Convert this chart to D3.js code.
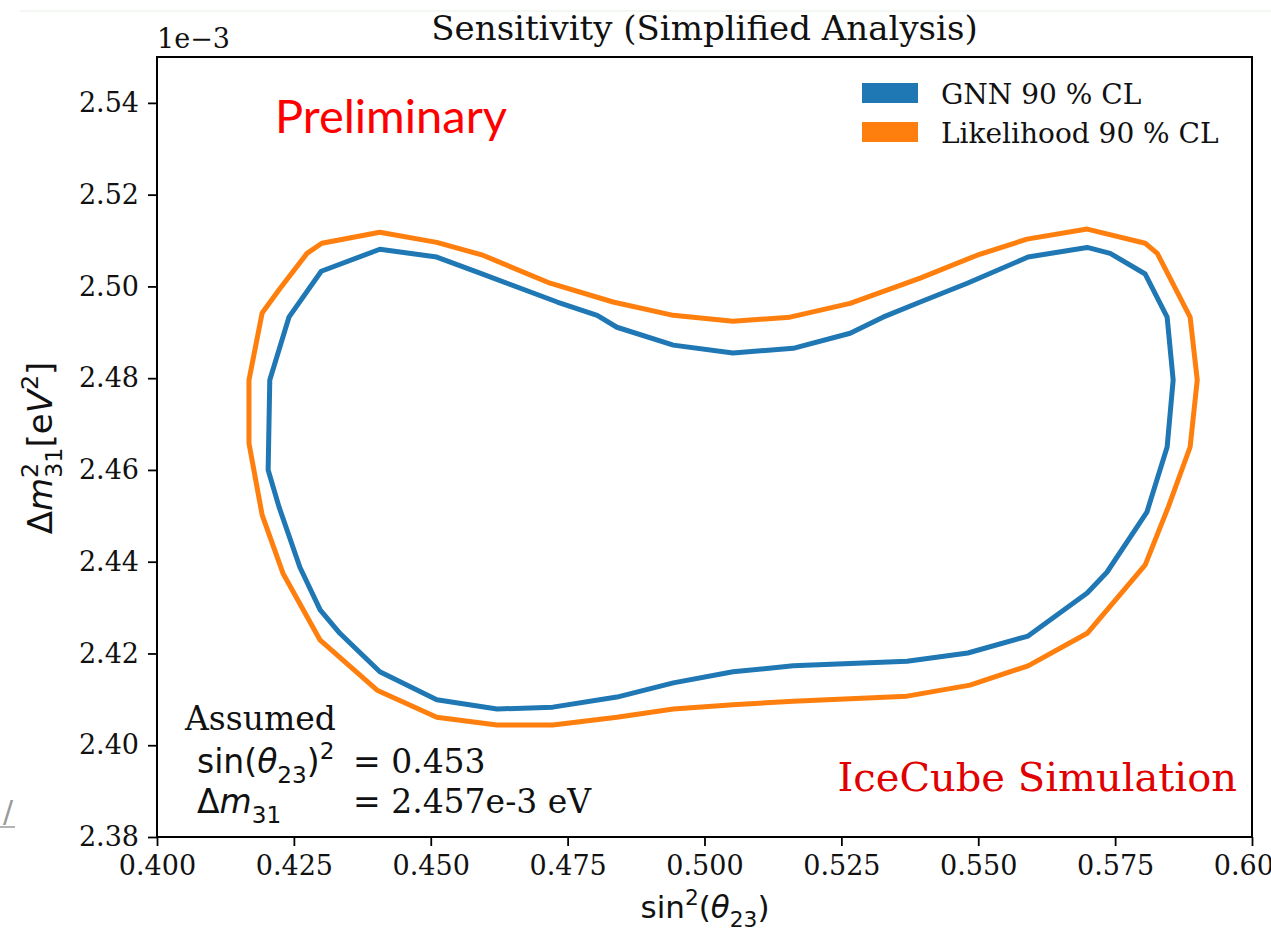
<!DOCTYPE html>
<html>
<head>
<meta charset="utf-8">
<script src="https://cdn.jsdelivr.net/npm/d3@7"></script>
<style>
  body { margin: 0; background: #ffffff; }
  svg { display: block; }
</style>
</head>
<body>
<svg id="chart" width="1271" height="932"></svg>
<script>
// 90 % CL contours in (sin^2 theta23, Delta m^2_31 [1e-3 eV^2])
const gnnX = [0.4206, 0.4241, 0.4300, 0.4407, 0.4511, 0.4590, 0.4731, 0.4804, 0.4840, 0.4943,
              0.5052, 0.5162, 0.5266, 0.5326, 0.5394, 0.5480, 0.5591, 0.5699, 0.5741, 0.5805,
              0.5845, 0.5856, 0.5845, 0.5808, 0.5735, 0.5699, 0.5591, 0.5481, 0.5370, 0.5162,
              0.5052, 0.4943, 0.4840, 0.4723, 0.4621, 0.4511, 0.4407, 0.4334, 0.4298, 0.4261,
              0.4223, 0.4203];
const gnnY = [2.4796, 2.4933, 2.5033, 2.5081, 2.5064, 2.5029, 2.4966, 2.4937, 2.4911, 2.4872,
              2.4855, 2.4865, 2.4898, 2.4933, 2.4966, 2.5007, 2.5064, 2.5085, 2.5072, 2.5027,
              2.4933, 2.4796, 2.4650, 2.4508, 2.4377, 2.4332, 2.4238, 2.4201, 2.4183, 2.4173,
              2.4160, 2.4136, 2.4105, 2.4083, 2.4079, 2.4099, 2.4160, 2.4244, 2.4295, 2.4388,
              2.4519, 2.4600];
const likeX = [0.4168, 0.4192, 0.4225, 0.4274, 0.4301, 0.4407, 0.4511, 0.4595, 0.4718, 0.4833,
               0.4943, 0.5052, 0.5156, 0.5266, 0.5394, 0.5498, 0.5589, 0.5699, 0.5805, 0.5827,
               0.5887, 0.5900, 0.5887, 0.5847, 0.5805, 0.5699, 0.5591, 0.5485, 0.5370, 0.5162,
               0.5052, 0.4943, 0.4840, 0.4723, 0.4621, 0.4511, 0.4402, 0.4298, 0.4230, 0.4192,
               0.4168];
const likeY = [2.4796, 2.4942, 2.4996, 2.5072, 2.5094, 2.5118, 2.5096, 2.5068, 2.5007, 2.4966,
               2.4937, 2.4924, 2.4933, 2.4963, 2.5018, 2.5068, 2.5103, 2.5125, 2.5094, 2.5072,
               2.4933, 2.4796, 2.4650, 2.4519, 2.4393, 2.4244, 2.4173, 2.4131, 2.4107, 2.4096,
               2.4088, 2.4079, 2.4061, 2.4044, 2.4044, 2.4061, 2.4120, 2.4229, 2.4375, 2.4502,
               2.4658];

const xTicks = [0.400, 0.425, 0.450, 0.475, 0.500, 0.525, 0.550, 0.575, 0.600];
const yTicks = [2.38, 2.40, 2.42, 2.44, 2.46, 2.48, 2.50, 2.52, 2.54];
const seriesNames = ["GNN 90 % CL", "Likelihood 90 % CL"];
const seriesColors = ["#1f77b4", "#ff7f0e"];

const SERIF = "'DejaVu Serif', serif";
const SANS = "'DejaVu Sans', sans-serif";

const svg = d3.select("#chart");
const plot = { left: 157, right: 1252, top: 57, bottom: 837 };

const x = d3.scaleLinear().domain([0.4, 0.6]).range([plot.left, plot.right]);
const y = d3.scaleLinear().domain([2.38, 2.55]).range([plot.bottom, plot.top]);

// faint page rule and stray slide mark
svg.append("line").attr("x1", 20).attr("x2", 1271).attr("y1", 11).attr("y2", 11)
  .attr("stroke", "#e6f0e4").attr("stroke-width", 1);
svg.append("text").attr("x", 3).attr("y", 822).attr("font-family", SANS)
  .attr("font-size", 30).attr("fill", "#9a9a9a").text("/");
svg.append("line").attr("x1", 0).attr("x2", 15).attr("y1", 827).attr("y2", 827)
  .attr("stroke", "#9a9a9a").attr("stroke-width", 1.5);

// contours
const pathGen = d3.line().x(d => x(d[0])).y(d => y(d[1])).curve(d3.curveLinearClosed);
const series = [
  d3.zip(gnnX, gnnY),
  d3.zip(likeX, likeY)
];
series.forEach((pts, i) => {
  svg.append("path").attr("d", pathGen(pts))
    .attr("fill", "none").attr("stroke", seriesColors[i])
    .attr("stroke-width", 5).attr("stroke-linejoin", "round");
});

// axes
const xAxis = svg.append("g").attr("transform", `translate(0,${plot.bottom})`)
  .call(d3.axisBottom(x).tickValues(xTicks).tickFormat(d3.format(".3f")).tickSize(9).tickSizeOuter(0).tickPadding(10));
const yAxis = svg.append("g").attr("transform", `translate(${plot.left},0)`)
  .call(d3.axisLeft(y).tickValues(yTicks).tickFormat(d3.format(".2f")).tickSize(9).tickSizeOuter(0).tickPadding(9));
[xAxis, yAxis].forEach(g => {
  g.select(".domain").remove();
  g.selectAll(".tick line").attr("stroke", "#000").attr("stroke-width", 1.8);
  g.selectAll(".tick text").attr("font-family", SERIF).attr("font-size", 27).attr("fill", "#111");
});

// frame
svg.append("rect").attr("x", plot.left).attr("y", plot.top)
  .attr("width", plot.right - plot.left).attr("height", plot.bottom - plot.top)
  .attr("fill", "none").attr("stroke", "#000").attr("stroke-width", 2);

// offset text and title
svg.append("text").attr("x", plot.left).attr("y", 48)
  .attr("font-family", SERIF).attr("font-size", 27).attr("fill", "#111").text("1e\u22123");
svg.append("text").attr("x", (plot.left + plot.right) / 2).attr("y", 40)
  .attr("text-anchor", "middle").attr("font-family", SERIF).attr("font-size", 34)
  .attr("fill", "#111").text("Sensitivity (Simplified Analysis)");

// mixed math text helper: segments of {t, it, sub, sup, font, dx}
function richText(g, segs, size) {
  const t = g.append("text").attr("font-size", size).attr("fill", "#111");
  let shift = 0;
  segs.forEach(s => {
    let target = 0, fs = size;
    if (s.sub) { target = size * 0.3; fs = size * 0.7; }
    if (s.sup) { target = -size * 0.42; fs = size * 0.7; }
    const ts = t.append("tspan").text(s.t)
      .attr("font-family", s.font || SANS)
      .attr("font-style", s.it ? "italic" : "normal")
      .attr("font-size", fs)
      .attr("dy", target - shift);
    if (s.dx) ts.attr("dx", s.dx);
    shift = target;
  });
  return t;
}

// x label
const xl = svg.append("g").attr("transform", "translate(705,918)");
richText(xl, [{t: "sin"}, {t: "2", sup: true}, {t: "("}, {t: "\u03B8", it: true}, {t: "23", sub: true}, {t: ")"}], 31)
  .attr("text-anchor", "middle");

// y label (rotated)
const yl = svg.append("g").attr("transform", "translate(52,448) rotate(-90)");
richText(yl, [{t: "\u0394"}, {t: "m", it: true}, {t: "2", sup: true}, {t: "31", sub: true, dx: -15},
  {t: "[e", it: false}, {t: "V", it: true}, {t: "2", sup: true}, {t: "]"}], 34)
  .attr("text-anchor", "middle");

// annotations
svg.append("text").attr("x", 275).attr("y", 133).attr("font-family", "Lato, 'Open Sans', sans-serif")
  .attr("font-size", 47).attr("fill", "#ff0000").text("Preliminary");
svg.append("text").attr("x", 1237).attr("y", 791).attr("text-anchor", "end")
  .attr("font-family", SERIF).attr("font-size", 40).attr("fill", "#e00000").text("IceCube Simulation");

svg.append("text").attr("x", 185).attr("y", 730).attr("font-family", SERIF)
  .attr("font-size", 33).attr("fill", "#111").text("Assumed");
const a1 = svg.append("g").attr("transform", "translate(197,773)");
richText(a1, [{t: "sin("}, {t: "\u03B8", it: true}, {t: "23", sub: true}, {t: ")"}, {t: "2", sup: true}], 33);
svg.append("text").attr("x", 353).attr("y", 773).attr("font-family", SERIF)
  .attr("font-size", 33).attr("fill", "#111").text("= 0.453");
const a2 = svg.append("g").attr("transform", "translate(197,813)");
richText(a2, [{t: "\u0394"}, {t: "m", it: true}, {t: "31", sub: true}], 33);
svg.append("text").attr("x", 353).attr("y", 813).attr("font-family", SERIF)
  .attr("font-size", 33).attr("fill", "#111").text("= 2.457e-3 eV");

// legend
const legend = svg.append("g");
seriesNames.forEach((name, i) => {
  const yy = 83 + i * 39;
  legend.append("rect").attr("x", 862).attr("y", yy).attr("width", 56).attr("height", 20)
    .attr("fill", seriesColors[i]);
  legend.append("text").attr("x", 941).attr("y", yy + 21).attr("font-family", SERIF)
    .attr("font-size", 28).attr("fill", "#111").text(name);
});
</script>
</body>
</html>
